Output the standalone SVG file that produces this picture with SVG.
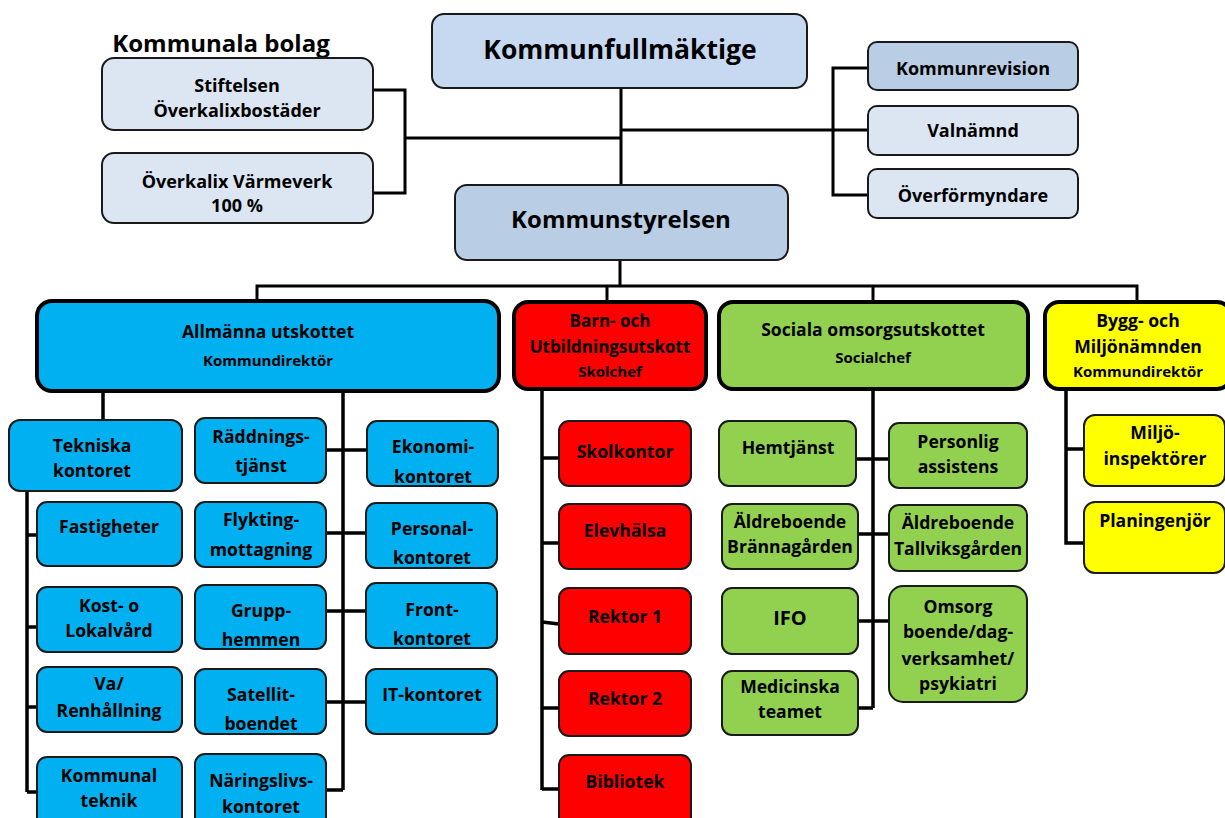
<svg xmlns="http://www.w3.org/2000/svg" width="1225" height="818" viewBox="0 0 1225 818">
<style>
text{font-family:"Open Sans","Liberation Sans",sans-serif;font-weight:bold;fill:#000;text-anchor:middle}
.t1{stroke:#1a1a1a;stroke-width:2}
.t2{stroke:#000;stroke-width:4}
.t3{stroke:#1a1a1a;stroke-width:2}
.pale{fill:#dce6f2}
.lb{fill:#c6d9f1}
.mb{fill:#b9cde5}
.blue{fill:#00b0f0}
.red{fill:#ff0000}
.green{fill:#92d050}
.yel{fill:#ffff00}
.con{fill:none;stroke:#000;stroke-width:3}
.con2{fill:none;stroke:#000;stroke-width:3.5}
.s17{font-size:18px}
.s18{font-size:17.6px}
.s14{font-size:15px}
</style>
<g id="connectors">
<path class="con" d="M373,90 H405 V193 H373 M405,138 H621 M621,88 V185 M621,130 H868 M868,68 H833 V195 H868 M620,260 V286 M257,300 V286 H1137 V302 M607,286 V302 M873,286 V302"/>
<path class="con2" d="M103,392 V420 M27,491 V792 M27,535 H37 M27,627 H37 M27,707 H37 M27,792 H37 M343,392 V790 M326,450 H367 M326,533 H367 M326,611 H367 M326,702 H367 M326,790 H343 M542,389 V790 M542,458 H559 M542,543 H559 M542,622 L559,624 M542,708 H559 M542,789 H559 M873,389 V708 M857,459 H889 M858,534 H889 M858,621 H889 M858,708 H873 M1066,389 V543 H1084 M1066,449 H1084"/>
</g>
<text x="221" y="52" style="font-size:24px">Kommunala bolag</text>
<g id="stiftelsen"><rect class="pale t1" x="102" y="58" width="271" height="72" rx="12"/><text class="s17" x="237" y="92">Stiftelsen</text><text class="s17" x="237" y="117">Överkalixbostäder</text></g>
<g id="varmeverk"><rect class="pale t1" x="102" y="153" width="271" height="70" rx="12"/><text class="s17" x="237" y="188">Överkalix Värmeverk</text><text class="s17" x="237" y="212">100 %</text></g>
<g id="kommunfullmaktige"><rect class="lb t1" x="432" y="14" width="375" height="74" rx="12"/><text x="620" y="59" style="font-size:26.5px">Kommunfullmäktige</text></g>
<g id="kommunstyrelsen"><rect class="mb t1" x="455" y="185" width="333" height="75" rx="12"/><text x="621" y="228" style="font-size:24px">Kommunstyrelsen</text></g>
<g id="kommunrevision"><rect class="mb t1" x="868" y="42" width="210" height="48" rx="9"/><text class="s17" x="973" y="75">Kommunrevision</text></g>
<g id="valnamnd"><rect class="pale t1" x="868" y="106" width="210" height="49" rx="9"/><text class="s17" x="973" y="137">Valnämnd</text></g>
<g id="overformyndare"><rect class="pale t1" x="868" y="169" width="210" height="49" rx="9"/><text class="s17" x="973" y="202">Överförmyndare</text></g>

<g id="allmanna"><rect class="blue t2" x="37" y="301" width="462" height="90" rx="15"/><text class="s18" x="268" y="338">Allmänna utskottet</text><text class="s14" x="268" y="366">Kommundirektör</text></g>
<g id="barn"><rect class="red t2" x="514" y="302" width="192" height="87" rx="14"/><text x="610" y="327" style="font-size:17px">Barn- och</text><text x="610" y="353" style="font-size:17px">Utbildningsutskott</text><text class="s14" x="610" y="377">Skolchef</text></g>
<g id="sociala"><rect class="green t2" x="719" y="302" width="309" height="87" rx="14"/><text class="s18" x="873" y="336">Sociala omsorgsutskottet</text><text class="s14" x="873" y="363">Socialchef</text></g>
<g id="bygg"><rect class="yel t2" x="1045" y="302" width="186" height="87" rx="14"/><text class="s18" x="1138" y="327">Bygg- och</text><text class="s18" x="1138" y="353">Miljönämnden</text><text class="s14" x="1138" y="377">Kommundirektör</text></g>

<g id="tekniska"><rect class="blue t3" x="9" y="420" width="173" height="71" rx="11"/><text class="s18" x="92" y="452">Tekniska</text><text class="s18" x="92" y="477">kontoret</text></g>
<g id="fastigheter"><rect class="blue t3" x="37" y="502" width="145" height="64" rx="10"/><text class="s18" x="109" y="533">Fastigheter</text></g>
<g id="kost"><rect class="blue t3" x="37" y="587" width="145" height="65" rx="10"/><text class="s18" x="109" y="612">Kost- o</text><text class="s18" x="109" y="637">Lokalvård</text></g>
<g id="va"><rect class="blue t3" x="37" y="667" width="145" height="65" rx="10"/><text class="s18" x="109" y="690">Va/</text><text class="s18" x="109" y="717">Renhållning</text></g>
<g id="kommunalteknik"><rect class="blue t3" x="37" y="757" width="145" height="75" rx="10"/><text class="s18" x="109" y="782">Kommunal</text><text class="s18" x="109" y="807">teknik</text></g>

<g id="raddning"><rect class="blue t3" x="195" y="418" width="131" height="65" rx="10"/><text class="s18" x="261" y="443">Räddnings-</text><text class="s18" x="261" y="472">tjänst</text></g>
<g id="flykting"><rect class="blue t3" x="195" y="502" width="131" height="65" rx="10"/><text class="s18" x="261" y="526">Flykting-</text><text class="s18" x="261" y="556">mottagning</text></g>
<g id="grupp"><rect class="blue t3" x="195" y="585" width="131" height="64" rx="10"/><text class="s18" x="261" y="617">Grupp-</text><text class="s18" x="261" y="646">hemmen</text></g>
<g id="satellit"><rect class="blue t3" x="195" y="669" width="131" height="65" rx="10"/><text class="s18" x="261" y="701">Satellit-</text><text class="s18" x="261" y="730">boendet</text></g>
<g id="naringsliv"><rect class="blue t3" x="195" y="754" width="131" height="75" rx="10"/><text class="s18" x="261" y="787">Näringslivs-</text><text class="s18" x="261" y="813">kontoret</text></g>

<g id="ekonomi"><rect class="blue t3" x="367" y="421" width="131" height="65" rx="10"/><text class="s18" x="433" y="453">Ekonomi-</text><text class="s18" x="433" y="483">kontoret</text></g>
<g id="personal"><rect class="blue t3" x="366" y="503" width="131" height="65" rx="10"/><text class="s18" x="432" y="535">Personal-</text><text class="s18" x="432" y="564">kontoret</text></g>
<g id="front"><rect class="blue t3" x="366" y="583" width="131" height="65" rx="10"/><text class="s18" x="432" y="616">Front-</text><text class="s18" x="432" y="645">kontoret</text></g>
<g id="it"><rect class="blue t3" x="366" y="669" width="131" height="65" rx="10"/><text class="s18" x="432" y="701">IT-kontoret</text></g>

<g id="skolkontor"><rect class="red t3" x="559" y="421" width="132" height="65" rx="10"/><text class="s18" x="625" y="458">Skolkontor</text></g>
<g id="elevhalsa"><rect class="red t3" x="559" y="504" width="132" height="65" rx="10"/><text class="s18" x="625" y="537">Elevhälsa</text></g>
<g id="rektor1"><rect class="red t3" x="559" y="588" width="132" height="66" rx="10"/><text class="s18" x="625" y="623">Rektor 1</text></g>
<g id="rektor2"><rect class="red t3" x="559" y="671" width="132" height="65" rx="10"/><text class="s18" x="625" y="705">Rektor 2</text></g>
<g id="bibliotek"><rect class="red t3" x="559" y="755" width="132" height="75" rx="10"/><text class="s18" x="625" y="788">Bibliotek</text></g>

<g id="hemtjanst"><rect class="green t3" x="719" y="421" width="137" height="65" rx="10"/><text class="s18" x="788" y="454">Hemtjänst</text></g>
<g id="brannagarden"><rect class="green t3" x="722" y="504" width="136" height="65" rx="10"/><text class="s18" x="790" y="528">Äldreboende</text><text class="s18" x="790" y="553">Brännagården</text></g>
<g id="ifo"><rect class="green t3" x="722" y="588" width="136" height="66" rx="10"/><text x="790" y="625" style="font-size:20px">IFO</text></g>
<g id="medicinska"><rect class="green t3" x="722" y="671" width="136" height="64" rx="10"/><text class="s18" x="790" y="693">Medicinska</text><text class="s18" x="790" y="718">teamet</text></g>

<g id="personlig"><rect class="green t3" x="889" y="423" width="138" height="65" rx="10"/><text class="s18" x="958" y="448">Personlig</text><text class="s18" x="958" y="473">assistens</text></g>
<g id="tallviks"><rect class="green t3" x="889" y="505" width="138" height="66" rx="10"/><text class="s18" x="958" y="529">Äldreboende</text><text class="s18" x="958" y="555">Tallviksgården</text></g>
<g id="omsorg"><rect class="green t3" x="889" y="586" width="138" height="116" rx="14"/><text class="s18" x="958" y="613">Omsorg</text><text class="s18" x="958" y="638">boende/dag-</text><text class="s18" x="958" y="665">verksamhet/</text><text class="s18" x="958" y="690">psykiatri</text></g>

<g id="miljoinspektorer"><rect class="yel t3" x="1084" y="415" width="141" height="71" rx="11"/><text class="s18" x="1155" y="439">Miljö-</text><text class="s18" x="1155" y="465">inspektörer</text></g>
<g id="planingenjor"><rect class="yel t3" x="1084" y="502" width="141" height="71" rx="11"/><text class="s18" x="1155" y="527">Planingenjör</text></g>
</svg>
